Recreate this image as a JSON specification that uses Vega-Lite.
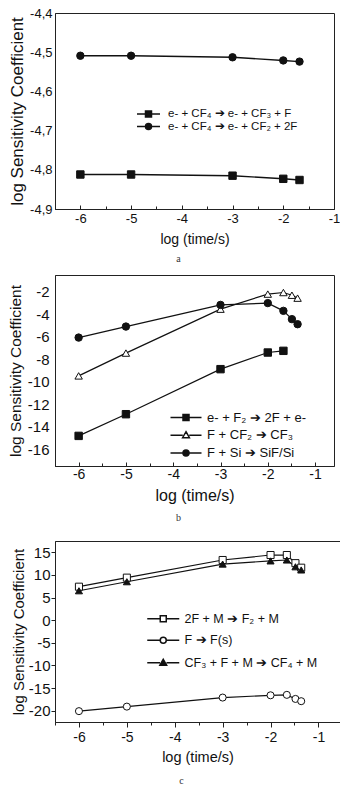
{
  "$schema": "https://vega.github.io/schema/vega-lite/v6.json",
  "padding": {"left": 7, "top": 6, "right": 4, "bottom": 0},
  "background": "white",
  "spacing": 9,
  "config": {
    "view": {"stroke": "#222", "strokeWidth": 1},
    "font": "Liberation Sans",
    "axis": {"grid": false, "domainColor": "#222", "tickColor": "#222", "labelColor": "#111", "titleColor": "#111", "titleFontWeight": "normal", "labelFont": "Liberation Sans", "titleFont": "Liberation Sans", "labelOverlap": false},
    "legend": {"labelFont": "Liberation Sans", "labelColor": "#111", "padding": 0, "symbolOpacity": 1},
    "title": {"font": "Liberation Serif", "fontWeight": "normal", "color": "#333", "fontSize": 10, "orient": "bottom"}
  },
  "datasets": {
    "a": [
      {"x": -6, "y": -4.812, "s": "sq", "label": "e- + CF₄ ➔ e- + CF₃ + F"},
      {"x": -5, "y": -4.812, "s": "sq", "label": "e- + CF₄ ➔ e- + CF₃ + F"},
      {"x": -3, "y": -4.815, "s": "sq", "label": "e- + CF₄ ➔ e- + CF₃ + F"},
      {"x": -2, "y": -4.823, "s": "sq", "label": "e- + CF₄ ➔ e- + CF₃ + F"},
      {"x": -1.68, "y": -4.826, "s": "sq", "label": "e- + CF₄ ➔ e- + CF₃ + F"},
      {"x": -6, "y": -4.509, "s": "ci", "label": " e- + CF₄ ➔ e- + CF₂ + 2F"},
      {"x": -5, "y": -4.509, "s": "ci", "label": " e- + CF₄ ➔ e- + CF₂ + 2F"},
      {"x": -3, "y": -4.513, "s": "ci", "label": " e- + CF₄ ➔ e- + CF₂ + 2F"},
      {"x": -2, "y": -4.521, "s": "ci", "label": " e- + CF₄ ➔ e- + CF₂ + 2F"},
      {"x": -1.68, "y": -4.524, "s": "ci", "label": " e- + CF₄ ➔ e- + CF₂ + 2F"}
    ],
    "b": [
      {"x": -6, "y": -14.82, "s": "sq", "label": "e- + F₂ ➔ 2F + e-"},
      {"x": -5, "y": -12.89, "s": "sq", "label": "e- + F₂ ➔ 2F + e-"},
      {"x": -3, "y": -8.88, "s": "sq", "label": "e- + F₂ ➔ 2F + e-"},
      {"x": -2, "y": -7.4, "s": "sq", "label": "e- + F₂ ➔ 2F + e-"},
      {"x": -1.67, "y": -7.25, "s": "sq", "label": "e- + F₂ ➔ 2F + e-"},
      {"x": -6, "y": -9.48, "s": "tri", "label": "F +  CF₂ ➔ CF₃"},
      {"x": -5, "y": -7.45, "s": "tri", "label": "F +  CF₂ ➔ CF₃"},
      {"x": -3, "y": -3.54, "s": "tri", "label": "F +  CF₂ ➔ CF₃"},
      {"x": -2, "y": -2.2, "s": "tri", "label": "F +  CF₂ ➔ CF₃"},
      {"x": -1.67, "y": -2.06, "s": "tri", "label": "F +  CF₂ ➔ CF₃"},
      {"x": -1.49, "y": -2.3, "s": "tri", "label": "F +  CF₂ ➔ CF₃"},
      {"x": -1.37, "y": -2.56, "s": "tri", "label": "F +  CF₂ ➔ CF₃"},
      {"x": -6, "y": -6.07, "s": "ci", "label": "F + Si ➔ SiF/Si"},
      {"x": -5, "y": -5.09, "s": "ci", "label": "F + Si ➔ SiF/Si"},
      {"x": -3, "y": -3.16, "s": "ci", "label": "F + Si ➔ SiF/Si"},
      {"x": -2, "y": -3.0, "s": "ci", "label": "F + Si ➔ SiF/Si"},
      {"x": -1.67, "y": -3.69, "s": "ci", "label": "F + Si ➔ SiF/Si"},
      {"x": -1.49, "y": -4.43, "s": "ci", "label": "F + Si ➔ SiF/Si"},
      {"x": -1.37, "y": -4.88, "s": "ci", "label": "F + Si ➔ SiF/Si"}
    ],
    "c": [
      {"x": -6, "y": 7.4, "s": "sq", "label": "2F + M ➔ F₂ + M"},
      {"x": -5, "y": 9.4, "s": "sq", "label": "2F + M ➔ F₂ + M"},
      {"x": -3, "y": 13.3, "s": "sq", "label": "2F + M ➔ F₂ + M"},
      {"x": -2, "y": 14.4, "s": "sq", "label": "2F + M ➔ F₂ + M"},
      {"x": -1.66, "y": 14.4, "s": "sq", "label": "2F + M ➔ F₂ + M"},
      {"x": -1.48, "y": 12.6, "s": "sq", "label": "2F + M ➔ F₂ + M"},
      {"x": -1.36, "y": 11.6, "s": "sq", "label": "2F + M ➔ F₂ + M"},
      {"x": -6, "y": -20.1, "s": "ci", "label": "F ➔ F(s)"},
      {"x": -5, "y": -19.1, "s": "ci", "label": "F ➔ F(s)"},
      {"x": -3, "y": -17.1, "s": "ci", "label": "F ➔ F(s)"},
      {"x": -2, "y": -16.6, "s": "ci", "label": "F ➔ F(s)"},
      {"x": -1.66, "y": -16.5, "s": "ci", "label": "F ➔ F(s)"},
      {"x": -1.48, "y": -17.4, "s": "ci", "label": "F ➔ F(s)"},
      {"x": -1.36, "y": -17.9, "s": "ci", "label": "F ➔ F(s)"},
      {"x": -6, "y": 6.5, "s": "tri", "label": "CF₃ + F + M ➔ CF₄ + M"},
      {"x": -5, "y": 8.5, "s": "tri", "label": "CF₃ + F + M ➔ CF₄ + M"},
      {"x": -3, "y": 12.4, "s": "tri", "label": "CF₃ + F + M ➔ CF₄ + M"},
      {"x": -2, "y": 13.1, "s": "tri", "label": "CF₃ + F + M ➔ CF₄ + M"},
      {"x": -1.66, "y": 13.3, "s": "tri", "label": "CF₃ + F + M ➔ CF₄ + M"},
      {"x": -1.48, "y": 11.8, "s": "tri", "label": "CF₃ + F + M ➔ CF₄ + M"},
      {"x": -1.36, "y": 11.1, "s": "tri", "label": "CF₃ + F + M ➔ CF₄ + M"}
    ]
  },
  "vconcat": [
    {
      "width": 279, "height": 196,
      "data": {"name": "a"},
      "title": {"text": "a", "offset": 8, "dx": -16},
      "encoding": {
        "x": {"field": "x", "type": "quantitative", "scale": {"domain": [-6.5, -1], "nice": false, "zero": false},
          "axis": {"title": "log (time/s)", "titleFontSize": 14, "labelFontSize": 13, "titlePadding": 6, "labelPadding": 7, "labelOverlap": false, "labelFlush": false, "labelBound": false,
            "values": [-6.5, -6, -5.5, -5, -4.5, -4, -3.5, -3, -2.5, -2, -1.5, -1],
            "labelExpr": "datum.value % 1 === 0 ? (datum.value < 0 ? '-' : '') + abs(datum.value) : ''",
            "tickSize": {"condition": {"test": "datum.value % 1 !== 0", "value": -3}, "value": -4}}},
        "y": {"field": "y", "type": "quantitative", "scale": {"domain": [-4.9, -4.4], "nice": false, "zero": false},
          "axis": {"title": "log Sensitivity Coefficient", "titleFontSize": 17, "labelFontSize": 13, "titlePadding": 3, "labelPadding": 3, "labelOverlap": false, "labelFlush": false, "labelBound": false,
            "values": [-4.9, -4.8, -4.7, -4.6, -4.5, -4.4], "tickSize": 0,
            "labelExpr": "'-' + replace(format(abs(datum.value), '.1f'), '.', ',')"}}
      },
      "layer": [
        {
          "mark": {"type": "line", "color": "#111", "strokeWidth": 1.4},
          "encoding": {"detail": {"field": "s"}}
        },
        {
          "mark": {"type": "point", "filled": true, "stroke": "#111", "strokeWidth": 1, "opacity": 1},
          "encoding": {
            "shape": {"field": "s", "scale": {"domain": ["sq", "ci"], "range": ["square", "circle"]}, "legend": null},
            "fill": {"field": "s", "scale": {"domain": ["sq", "ci"], "range": ["#111", "#111"]}, "legend": null},
            "size": {"value": 55}
          }
        },
        {
          "mark": {"type": "point", "filled": true, "stroke": "#111", "strokeWidth": 1.2, "opacity": 0},
          "encoding": {
            "shape": {"field": "label", "scale": {"domain": ["e- + CF₄ ➔ e- + CF₃ + F", " e- + CF₄ ➔ e- + CF₂ + 2F"],
              "range": ["M-2.3,0H-0.6M0.6,0H2.3M-0.6,-0.6H0.6V0.6H-0.6Z", "M-2.3,0H-0.6M0.6,0H2.3M-0.6,0A0.6,0.6,0,1,1,0.6,0A0.6,0.6,0,1,1,-0.6,0Z"]},
              "legend": {"title": null, "orient": "none", "legendX": 87.5, "legendY": 95, "symbolSize": 100, "labelFontSize": 11.5, "labelOffset": 13.5, "rowPadding": 0.5,
                "encode": {"symbols": {"stroke": {"value": "#111"}, "strokeWidth": {"value": 1.2}, "opacity": {"value": 1}}}}},
            "fill": {"field": "label", "scale": {"domain": ["e- + CF₄ ➔ e- + CF₃ + F", " e- + CF₄ ➔ e- + CF₂ + 2F"], "range": ["#111", "#111"]}}
          }
        }
      ],
      "resolve": {"scale": {"shape": "independent", "fill": "independent"}, "legend": {"shape": "independent", "fill": "independent"}}
    },
    {
      "spacing": 16,
      "vconcat": [
        {
          "width": 279, "height": 191,
          "data": {"name": "b"},
          "title": {"text": "b", "offset": 10, "dx": -16},
          "encoding": {
            "x": {"field": "x", "type": "quantitative", "scale": {"domain": [-6.5, -0.6], "nice": false, "zero": false},
              "axis": {"title": "log (time/s)", "titleFontSize": 16, "labelFontSize": 14, "titlePadding": 5, "labelPadding": 5, "labelOverlap": false, "labelFlush": false, "labelBound": false,
                "values": [-6.5, -6, -5.5, -5, -4.5, -4, -3.5, -3, -2.5, -2, -1.5, -1],
                "labelExpr": "datum.value % 1 === 0 ? (datum.value < 0 ? '-' : '') + abs(datum.value) : ''",
                "tickSize": {"condition": {"test": "datum.value % 1 !== 0", "value": -3}, "value": -4}}},
            "y": {"field": "y", "type": "quantitative", "scale": {"domain": [-17.5, -0.5], "nice": false, "zero": false},
              "axis": {"title": "log Sensitivity Coefficient", "titleFontSize": 15.5, "labelFontSize": 15, "titlePadding": 4, "labelPadding": 6, "labelOverlap": false, "labelFlush": false, "labelBound": false,
                "values": [-16, -14, -12, -10, -8, -6, -4, -2], "tickSize": 0,
                "labelExpr": "(datum.value < 0 ? '-' : '') + abs(datum.value)"}}
          },
          "layer": [
            {
              "mark": {"type": "line", "color": "#111", "strokeWidth": 1.2},
              "encoding": {
                "detail": {"field": "s"},
                "strokeWidth": {"field": "s", "scale": {"domain": ["sq", "tri", "ci"], "range": [1.8, 0.8, 1.2]}, "legend": null}
              }
            },
            {
              "mark": {"type": "point", "filled": true, "stroke": "#111", "strokeWidth": 1, "opacity": 1},
              "encoding": {
                "shape": {"field": "s", "scale": {"domain": ["sq", "tri", "ci"], "range": ["square", "triangle-up", "circle"]}, "legend": null},
                "fill": {"field": "s", "scale": {"domain": ["sq", "tri", "ci"], "range": ["#111", "white", "#111"]}, "legend": null},
                "size": {"value": 55}
              }
            },
            {
              "mark": {"type": "point", "filled": true, "stroke": "#111", "strokeWidth": 1.2, "opacity": 0},
              "encoding": {
                "shape": {"field": "label", "scale": {"domain": ["e- + F₂ ➔ 2F + e-", "F +  CF₂ ➔ CF₃", "F + Si ➔ SiF/Si"],
                  "range": ["M-3.1,0H-0.6M0.6,0H3.1M-0.6,-0.6H0.6V0.6H-0.6Z", "M-3.1,0H-0.65M0.65,0H3.1M0,-0.7L0.68,0.5L-0.68,0.5Z", "M-3.1,0H-0.6M0.6,0H3.1M-0.6,0A0.6,0.6,0,1,1,0.6,0A0.6,0.6,0,1,1,-0.6,0Z"]},
                  "legend": {"title": null, "orient": "none", "legendX": 124.5, "legendY": 136, "symbolSize": 100, "labelFontSize": 13, "labelOffset": 14.5, "rowPadding": 3.7,
                    "encode": {"symbols": {"stroke": {"value": "#111"}, "strokeWidth": {"value": 1.2}, "opacity": {"value": 1}}}}},
                "fill": {"field": "label", "scale": {"domain": ["e- + F₂ ➔ 2F + e-", "F +  CF₂ ➔ CF₃", "F + Si ➔ SiF/Si"], "range": ["#111", "white", "#111"]}}
              }
            }
          ],
          "resolve": {"scale": {"shape": "independent", "fill": "independent"}, "legend": {"shape": "independent", "fill": "independent"}}
        },
        {
          "width": 285, "height": 181,
          "data": {"name": "c"},
          "title": {"text": "c", "offset": 12, "dx": -16},
          "encoding": {
            "x": {"field": "x", "type": "quantitative", "scale": {"domain": [-6.5, -0.55], "nice": false, "zero": false},
              "axis": {"title": "log (time/s)", "titleFontSize": 14.5, "labelFontSize": 14, "titlePadding": 6, "labelPadding": 3, "labelOverlap": false, "labelFlush": false, "labelBound": false,
                "values": [-6.5, -6, -5.5, -5, -4.5, -4, -3.5, -3, -2.5, -2, -1.5, -1, -0.5],
                "labelExpr": "datum.value % 1 === 0 ? (datum.value < 0 ? '-' : '') + abs(datum.value) : ''",
                "tickSize": {"condition": {"test": "datum.value % 1 !== 0", "value": 3}, "value": 5}}},
            "y": {"field": "y", "type": "quantitative", "scale": {"domain": [-22.5, 17.5], "nice": false, "zero": false},
              "axis": {"title": "log Sensitivity Coefficient", "titleFontSize": 15, "labelFontSize": 15, "titlePadding": 2, "labelPadding": 1, "labelOverlap": false, "labelFlush": false, "labelBound": false,
                "values": [-20, -15, -10, -5, 0, 5, 10, 15], "tickSize": 4,
                "labelExpr": "(datum.value < 0 ? '-' : '') + abs(datum.value)"}}
          },
          "layer": [
            {
              "mark": {"type": "line", "color": "#111", "strokeWidth": 1.2},
              "encoding": {"detail": {"field": "s"}}
            },
            {
              "mark": {"type": "point", "filled": true, "stroke": "#111", "strokeWidth": 1, "opacity": 1},
              "encoding": {
                "shape": {"field": "s", "scale": {"domain": ["sq", "ci", "tri"], "range": ["square", "circle", "triangle-up"]}, "legend": null},
                "fill": {"field": "s", "scale": {"domain": ["sq", "ci", "tri"], "range": ["white", "white", "#111"]}, "legend": null},
                "size": {"value": 50}
              }
            },
            {
              "mark": {"type": "point", "filled": true, "stroke": "#111", "strokeWidth": 1.2, "opacity": 0},
              "encoding": {
                "shape": {"field": "label", "scale": {"domain": ["2F + M ➔ F₂ + M", "F ➔ F(s)", "CF₃ + F + M ➔ CF₄ + M"],
                  "range": ["M-3.2,0H-0.6M0.6,0H3.2M-0.6,-0.6H0.6V0.6H-0.6Z", "M-3.2,0H-0.6M0.6,0H3.2M-0.6,0A0.6,0.6,0,1,1,0.6,0A0.6,0.6,0,1,1,-0.6,0Z", "M-3.2,0H-0.65M0.65,0H3.2M0,-0.7L0.68,0.5L-0.68,0.5Z"]},
                  "legend": {"title": null, "orient": "none", "legendX": 102, "legendY": 71.5, "symbolSize": 100, "labelFontSize": 12.5, "labelOffset": 15, "rowPadding": 8.5,
                    "encode": {"symbols": {"stroke": {"value": "#111"}, "strokeWidth": {"value": 1.2}, "opacity": {"value": 1}}}}},
                "fill": {"field": "label", "scale": {"domain": ["2F + M ➔ F₂ + M", "F ➔ F(s)", "CF₃ + F + M ➔ CF₄ + M"], "range": ["white", "white", "#111"]}}
              }
            }
          ],
          "resolve": {"scale": {"shape": "independent", "fill": "independent"}, "legend": {"shape": "independent", "fill": "independent"}}
        }
      ]
    }
  ]
}
